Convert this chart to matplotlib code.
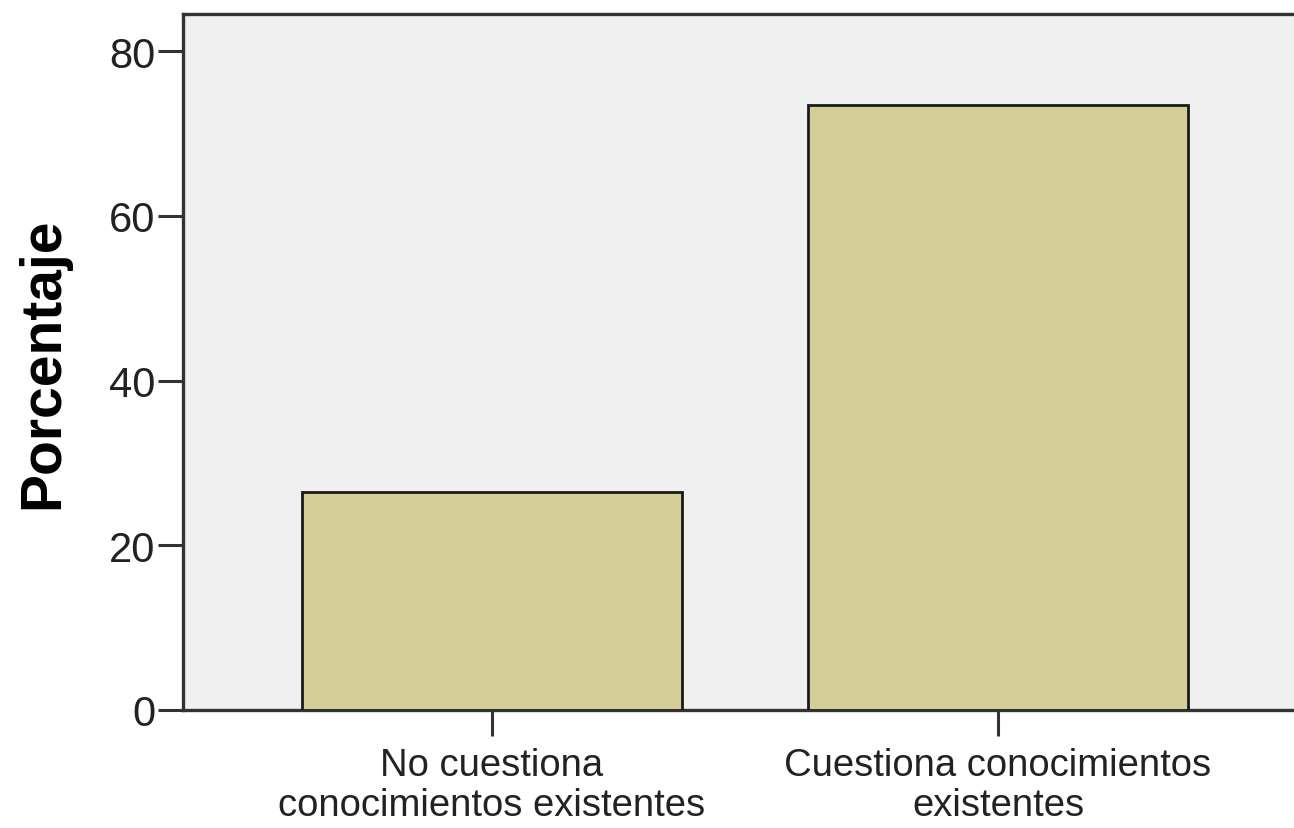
import matplotlib
matplotlib.use("Agg")
import matplotlib.pyplot as plt

# data
categorias = ["No cuestiona\nconocimientos existentes",
              "Cuestiona conocimientos\nexistentes"]
porcentajes = [26.5, 73.5]
yticks = [0, 20, 40, 60, 80]

plt.rcParams['font.family'] = ['Liberation Sans', 'DejaVu Sans']

W, H = 1294, 829
fig = plt.figure(figsize=(W / 100, H / 100), dpi=100)
fig.patch.set_facecolor('white')

# axes spans past the right edge of the figure (cropped like the original)
left_px, right_px, top_px, bottom_px = 183, 1307, 15, 711
ax = fig.add_axes([left_px / W, (H - bottom_px) / H,
                   (right_px - left_px) / W, (bottom_px - top_px) / H])
ax.set_facecolor('#f0f0f0')

x = list(range(len(categorias)))
ax.bar(x, porcentajes, width=0.75, color='#d3ce97', edgecolor='#1a1a1a',
       linewidth=2, zorder=3)

ax.set_xlim(-0.6107, 1.6107)
ax.set_ylim(0, 84.5)
ax.set_yticks(yticks)
ax.set_xticks(x)
ax.set_xticklabels(categorias, fontsize=27.5, color='#222222', linespacing=1.12)
ax.tick_params(axis='y', length=18, width=2.2, color='#333333', pad=2,
               labelsize=30, labelcolor='#222222')
ax.tick_params(axis='x', length=19, width=2.2, color='#333333', pad=8)

for side in ['top', 'left', 'bottom', 'right']:
    ax.spines[side].set_color('#333333')
    ax.spines[side].set_linewidth(2.4)

ax.set_ylabel('Porcentaje', fontsize=41, fontweight='bold', labelpad=28)

fig.savefig('out.png', dpi=100)
